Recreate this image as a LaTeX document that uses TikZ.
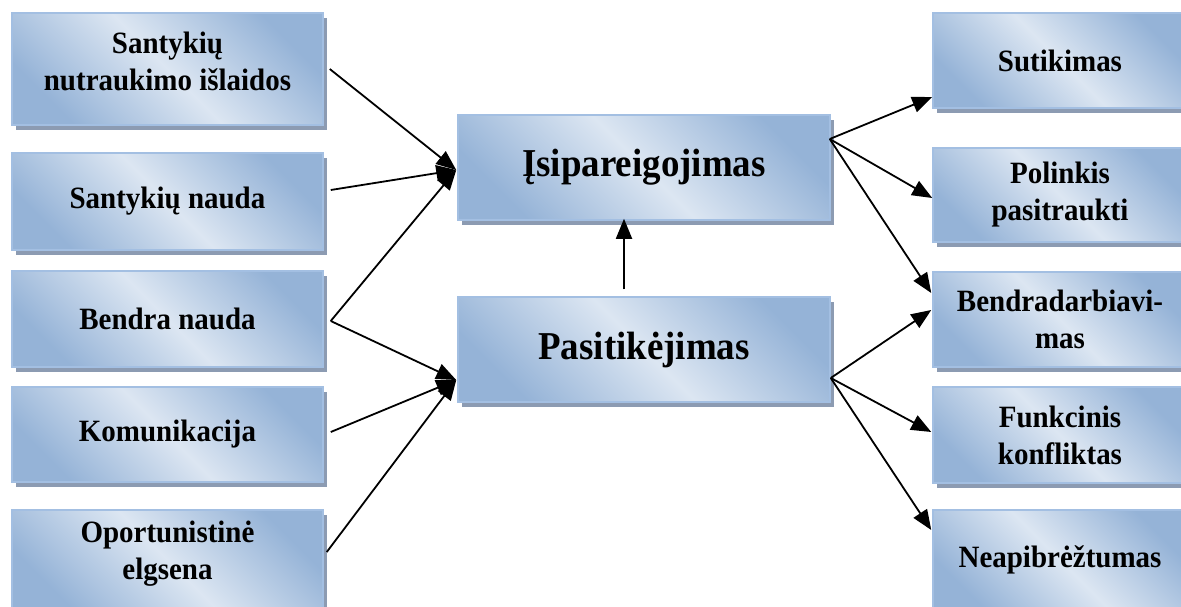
\documentclass[tikz,border=0pt]{standalone}
\usepackage{fontspec}
\setmainfont{Liberation Serif}
\newfontfamily\boxfont{Liberation Serif}[FakeStretch=0.935]
\usetikzlibrary{arrows.meta,shadows}

\definecolor{boxlight}{HTML}{DCE6F2}
\definecolor{boxdark}{HTML}{95B3D7}
\definecolor{boxedge}{HTML}{A3BFE2}
\definecolor{boxshadow}{HTML}{8C9BB2}

\tikzset{
  box/.style={draw=boxedge, line width=1.5pt,
    top color=boxdark, bottom color=boxdark, middle color=boxlight,
    shading angle=-45,
    general shadow={fill=boxshadow, shadow xshift=4pt, shadow yshift=-5pt},
    inner sep=0pt, align=center,
    font=\boxfont\fontsize{31}{37}\selectfont\bfseries},
  bigbox/.style={box, font=\boxfont\fontsize{39.5}{46}\selectfont\bfseries},
  arr/.style={-{Triangle[length=20pt,width=16pt]}, line width=1.8pt},
}

\begin{document}
\begin{tikzpicture}[x=1pt, y=-1pt]
\useasboundingbox (0,0) rectangle (1181,607);
\clip (0,0) rectangle (1181,607);

% factors on the left
\node[box, minimum width=311pt, minimum height=112pt, text depth=16pt] (L1) at (167.5,69) {Santykių\\nutraukimo išlaidos};
\node[box, minimum width=311pt, minimum height=97pt]  (L2) at (167.5,201.5) {Santykių nauda};
\node[box, minimum width=311pt, minimum height=96pt]  (L3) at (167.5,319) {Bendra nauda};
\node[box, minimum width=311pt, minimum height=95pt]  (L4) at (167.5,434.5) {Komunikacija};
\node[box, minimum width=311pt, minimum height=100pt, text depth=20pt] (L5) at (167.5,560) {Oportunistinė\\elgsena};

% central constructs
\node[bigbox, minimum width=372pt, minimum height=105pt] (I) at (644,167.5) {Įsipareigojimas};
\node[bigbox, minimum width=372pt, minimum height=105pt] (P) at (644,349.5) {Pasitikėjimas};

% outcomes on the right
\node[box, minimum width=254pt, minimum height=95pt]  (R1) at (1060,60.5) {Sutikimas};
\node[box, minimum width=254pt, minimum height=94pt]  (R2) at (1060,195) {Polinkis\\pasitraukti};
\node[box, minimum width=254pt, minimum height=95pt]  (R3) at (1060,319.5) {Bendradarbiavi-\\mas};
\node[box, minimum width=254pt, minimum height=96pt]  (R4) at (1060,435) {Funkcinis\\konfliktas};
\node[box, minimum width=254pt, minimum height=100pt] (R5) at (1060,560) {Neapibrėžtumas};

% connector end points
\coordinate (a1) at ([shift={(6,0)}]L1.east);
\coordinate (a2) at ([shift={(7,-11.5)}]L2.east);
\coordinate (a3) at ([shift={(7,2)}]L3.east);
\coordinate (a4) at ([shift={(7,-2.5)}]L4.east);
\coordinate (a5) at ([shift={(3,-8)}]L5.east);
\coordinate (iin) at ([shift={(-1,2.5)}]I.west);
\coordinate (pin) at ([shift={(-1,30.5)}]P.west);
\coordinate (iout) at ([shift={(-1,-28.5)}]I.east);
\coordinate (pout) at ([shift={(0,28.5)}]P.east);
\coordinate (r1) at ([shift={(0,36.5)}]R1.west);
\coordinate (r2) at ([shift={(0,3)}]R2.west);
\coordinate (r3a) at ([shift={(-1,-26.5)}]R3.west);
\coordinate (r3b) at ([shift={(-1,-9.5)}]R3.west);
\coordinate (r4) at ([shift={(-1,-3)}]R4.west);
\coordinate (r5) at ([shift={(-1,-30)}]R5.west);
\coordinate (pup) at ([shift={(-20,-7)}]P.north);
\coordinate (idown) at ([shift={(-20,-2)}]I.south);

% connectors
\draw[arr] (a1) -- (iin);
\draw[arr] (a2) -- (iin);
\draw[arr] (a3) -- (iin);
\draw[arr] (a3) -- (pin);
\draw[arr] (a4) -- (pin);
\draw[arr] (a5) -- (pin);
\draw[arr] (pup) -- (idown);
\draw[arr] (iout) -- (r1);
\draw[arr] (iout) -- (r2);
\draw[arr] (iout) -- (r3a);
\draw[arr] (pout) -- (r3b);
\draw[arr] (pout) -- (r4);
\draw[arr] (pout) -- (r5);
\end{tikzpicture}
\end{document}
